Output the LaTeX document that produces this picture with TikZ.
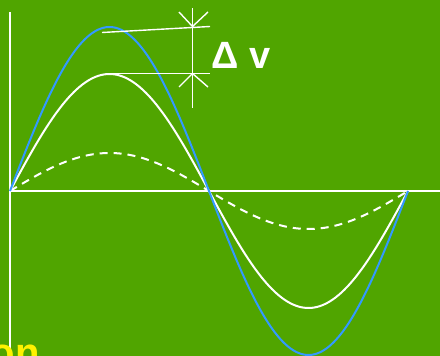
\documentclass[tikz,border=0pt]{standalone}
\usepackage{fontspec}
\setmainfont{Liberation Sans}
\begin{document}
\begin{tikzpicture}[x=1pt,y=-1pt,
  wline/.style={white,line width=2pt},
  curveW/.style={white,line width=2pt},
  curveB/.style={color={rgb,255:red,51;green,153;blue,255},line width=2pt},
  curveD/.style={white,line width=2pt,dash pattern=on 8pt off 6pt},
  tick/.style={white,line width=1.4pt}]
\fill[fill={rgb,255:red,80;green,165;blue,0}] (0,0) rectangle (440,356);
\useasboundingbox (0,0) rectangle (440,356);
% axes
\coordinate (yT) at (10,12);
\coordinate (yB) at (10,356);
\coordinate (xL) at (10,191);
\coordinate (xR) at (440,191);
\draw[wline] (yT) -- (yB);
\draw[wline] (xL) -- (xR);
% curves
\draw[curveD] plot[domain=10:408,samples=150,smooth] (\x,{191-38*sin((\x-10)/199*180)});
\draw[curveW] plot[domain=10:408,samples=150,smooth] (\x,{191-117*sin((\x-10)/199*180)});
\draw[curveB] plot[domain=10:408,samples=150,smooth] (\x,{191-164*sin((\x-10)/199*180)});
% delta v markers
\coordinate (u1) at (102,32.5);
\coordinate (u2) at (210,26.5);
\coordinate (l1) at (110,73.5);
\coordinate (l2) at (210,73.5);
\coordinate (vT) at (192.5,8);
\coordinate (vB) at (192.5,108);
\coordinate (aT) at (192.5,26.5);
\coordinate (aB) at (192.5,73.5);
\draw[tick] (u1) -- (u2);
\draw[tick] (l1) -- (l2);
\draw[tick] (vT) -- (vB);
\draw[tick] (179,12) -- (aT) -- (208,12);
\draw[tick] (179,87) -- (aB) -- (208,87);
\node[anchor=base west,inner sep=0pt,text=white,font=\fontsize{38}{40}\selectfont\bfseries] (dv) at (211,68) {Δ v};
\node[anchor=base east,inner sep=0pt,text=yellow,font=\fontsize{40}{42}\selectfont\bfseries] (on) at (40,366) {on};
\end{tikzpicture}
\end{document}
